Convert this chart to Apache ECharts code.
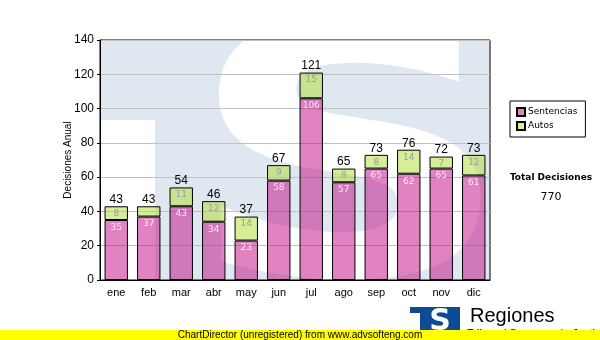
<!DOCTYPE html>
<html>
<head>
<meta charset="utf-8">
<script src="https://cdn.jsdelivr.net/npm/echarts@6/dist/echarts.min.js"></script>
<style>
  html, body { margin: 0; padding: 0; background: #fff; }
  #chart { width: 600px; height: 340px; }
</style>
</head>
<body>
<div id="chart"></div>
<script>
// Monthly decisions, split by type
const months = ['ene', 'feb', 'mar', 'abr', 'may', 'jun', 'jul', 'ago', 'sep', 'oct', 'nov', 'dic'];
const sentencias = [35, 37, 43, 34, 23, 58, 106, 57, 65, 62, 65, 61];
const autos = [8, 6, 11, 12, 14, 9, 15, 8, 8, 14, 7, 12];
const yTicks = [0, 20, 40, 60, 80, 100, 120, 140];

const totals = months.map((_, i) => sentencias[i] + autos[i]);
const grandTotal = totals.reduce((a, b) => a + b, 0);

const chart = echarts.init(document.getElementById('chart'), null, { renderer: 'canvas' });

const PLOT = { left: 100, top: 40, width: 390, height: 240 };

chart.setOption({
  animation: false,
  backgroundColor: '#fff',
  grid: {
    left: PLOT.left, top: PLOT.top, width: PLOT.width, height: PLOT.height,
    show: true, borderColor: '#000', borderWidth: 1, backgroundColor: 'transparent'
  },
  legend: {
    data: ['Sentencias', 'Autos'],
    orient: 'vertical',
    left: 510, top: 101,
    width: 73,
    padding: [6, 8, 6, 6],
    backgroundColor: '#fff',
    borderColor: '#000', borderWidth: 1,
    itemWidth: 8, itemHeight: 8, itemGap: 4,
    icon: 'rect',
    textStyle: { fontFamily: 'DejaVu Sans', fontSize: 9, color: '#000', padding: [0, 8, 0, -2] }
  },
  xAxis: {
    type: 'category',
    data: months,
    axisLine: { lineStyle: { color: '#000', width: 1 } },
    axisTick: { alignWithLabel: true, length: 3, lineStyle: { color: '#000' } },
    axisLabel: { fontFamily: 'Liberation Sans', fontSize: 11, color: '#000', margin: 7 }
  },
  yAxis: {
    type: 'value',
    min: 0, max: 140, interval: 20,
    name: 'Decisiones Anual',
    nameLocation: 'middle',
    nameRotate: 90,
    nameGap: 27,
    nameMoveOverlap: false,
    nameTextStyle: { fontFamily: 'Liberation Sans', fontSize: 10, color: '#000' },
    axisLine: { show: true, lineStyle: { color: '#000', width: 1 } },
    axisTick: { show: true, length: 3, lineStyle: { color: '#000' } },
    axisLabel: {
      fontFamily: 'Liberation Sans', fontSize: 12, color: '#000', margin: 6,
      formatter: v => (yTicks.includes(v) ? String(v) : '')
    },
    splitLine: { lineStyle: { color: '#c0c0c0', width: 1 } }
  },
  series: [
    {
      name: 'Sentencias',
      type: 'bar',
      stack: 'dec',
      barWidth: '72%',
      data: sentencias,
      itemStyle: { color: 'rgba(196,8,132,0.5)', borderColor: '#000', borderWidth: 1 },
      label: {
        show: true, position: 'insideTop', distance: 3,
        fontFamily: 'DejaVu Sans', fontSize: 9, color: '#f8e6f4'
      },
      z: 3
    },
    {
      name: 'Autos',
      type: 'bar',
      stack: 'dec',
      barWidth: '72%',
      data: autos,
      itemStyle: { color: 'rgba(176,222,50,0.5)', borderColor: '#000', borderWidth: 1 },
      label: {
        show: true, position: 'insideTop', distance: 3,
        fontFamily: 'DejaVu Sans', fontSize: 9, color: '#9c9c9c',
        formatter: p => (p.value >= 7 ? String(p.value) : '')
      },
      z: 3
    },
    {
      name: 'Total',
      type: 'line',
      data: totals,
      symbol: 'circle',
      symbolSize: 1,
      itemStyle: { color: 'rgba(0,0,0,0)' },
      lineStyle: { opacity: 0 },
      label: {
        show: true, position: 'top', distance: 0,
        fontFamily: 'Liberation Sans', fontSize: 12, color: '#000'
      },
      z: 4
    }
  ],
  graphic: [
    // faded logo behind the plot
    { type: 'rect', z: -3, silent: true,
      shape: { x: PLOT.left, y: PLOT.top, width: PLOT.width, height: PLOT.height },
      style: { fill: '#dfe8f1' } },
    { type: 'rect', z: -2, silent: true,
      shape: { x: PLOT.left, y: 120, width: 55, height: 160 },
      style: { fill: '#fff' } },
    { type: 'text', z: -2, silent: true,
      x: 350, y: 184, scaleX: 1.3, scaleY: 1,
      style: { text: 'S', x: 0, y: 0, align: 'center', verticalAlign: 'middle',
               font: 'bold 350px "DejaVu Sans"', fill: '#fff' } },
    // totals panel
    { type: 'text', z: 5,
      style: { text: 'Total Decisiones', x: 551, y: 178, align: 'center', verticalAlign: 'middle',
               font: 'bold 9px "DejaVu Sans"', fill: '#000' } },
    { type: 'text', z: 5,
      style: { text: String(grandTotal), x: 551, y: 197, align: 'center', verticalAlign: 'middle',
               font: '11px "DejaVu Sans"', fill: '#000' } },
    // footer logo
    { type: 'rect', z: 5, shape: { x: 410, y: 307, width: 50, height: 23 }, style: { fill: '#0d4b93' } },
    { type: 'rect', z: 5, shape: { x: 410, y: 313, width: 10, height: 17 }, style: { fill: '#fff' } },
    { type: 'text', z: 6,
      style: { text: 'S', x: 440, y: 322, align: 'center', verticalAlign: 'middle',
               font: 'bold 30px "DejaVu Sans"', fill: '#fff' } },
    { type: 'text', z: 5,
      style: { text: 'Regiones', x: 470, y: 316, align: 'left', verticalAlign: 'middle',
               font: '20px "Liberation Sans"', fill: '#000' } },
    { type: 'text', z: 5,
      style: { text: 'Tribunal Supremo de Justicia', x: 467, y: 328, align: 'left', verticalAlign: 'top',
               font: '11px "Liberation Sans"', fill: '#000' } },
    { type: 'rect', z: 7, shape: { x: 0, y: 330, width: 600, height: 10 }, style: { fill: '#ffff00' } },
    { type: 'text', z: 8,
      style: { text: 'ChartDirector (unregistered) from www.advsofteng.com', x: 300, y: 335,
               align: 'center', verticalAlign: 'middle', font: '10px "Liberation Sans"', fill: '#000' } }
  ]
});
</script>
</body>
</html>
